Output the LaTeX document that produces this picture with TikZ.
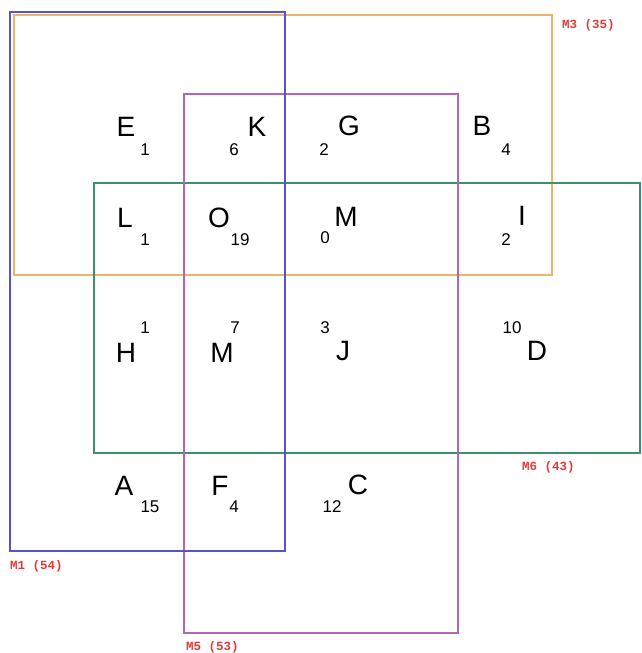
\documentclass[tikz,border=0pt]{standalone}
\usepackage{fontspec}
\setmainfont{Liberation Sans}
\newfontfamily\labmono{Liberation Mono}
\definecolor{cMone}{HTML}{5A52C8}
\definecolor{cMthree}{HTML}{EAB46A}
\definecolor{cMfive}{HTML}{B565B5}
\definecolor{cMsix}{HTML}{3F8F6C}
\definecolor{cLab}{HTML}{E03A3A}
\begin{document}
\begin{tikzpicture}[x=1pt,y=-1pt,
  boxline/.style={line width=2pt},
  letter/.style={inner sep=0pt,anchor=base,font=\fontsize{28}{30}\selectfont},
  count/.style={inner sep=0pt,anchor=base,font=\fontsize{17}{19}\selectfont},
  setlabel/.style={inner sep=0pt,anchor=west,text=cLab,font=\labmono\bfseries\fontsize{12.5}{14}\selectfont}]
\useasboundingbox (0,0) rectangle (641,653);
% sets
\draw[boxline,cMthree] (14,15) rectangle (552,275);
\draw[boxline,cMsix] (94,183) rectangle (640,453);
\draw[boxline,cMfive] (184,94) rectangle (458,633);
\draw[boxline,cMone] (10,12) rectangle (285,551);
% set labels
\node[setlabel] (l3) at (562,25) {M3 (35)};
\node[setlabel] (l1) at (10,566) {M1 (54)};
\node[setlabel] (l5) at (186,647) {M5 (53)};
\node[setlabel] (l6) at (522,467) {M6 (43)};
% row 1
\node[letter] (E) at (126,136) {E};
\node[count] (nE) at (145,155) {1};
\node[letter] (K) at (257,136) {K};
\node[count] (nK) at (234,155) {6};
\node[letter] (G) at (349,135) {G};
\node[count] (nG) at (324,155) {2};
\node[letter] (B) at (482,135) {B};
\node[count] (nB) at (506,155) {4};
% row 2
\node[letter] (L) at (125,227) {L};
\node[count] (nL) at (145,245) {1};
\node[letter] (O) at (219,227) {O};
\node[count] (nO) at (240,245) {19};
\node[letter] (M1) at (346,226) {M};
\node[count] (nM1) at (325,243) {0};
\node[letter] (I) at (522,225) {I};
\node[count] (nI) at (506,245) {2};
% row 3
\node[letter] (H) at (126,362) {H};
\node[count] (nH) at (145,333) {1};
\node[letter] (M2) at (222,362) {M};
\node[count] (nM2) at (235,333) {7};
\node[letter] (J) at (343,360) {J};
\node[count] (nJ) at (325,333) {3};
\node[letter] (D) at (537,360) {D};
\node[count] (nD) at (512,333) {10};
% row 4
\node[letter] (A) at (124,495) {A};
\node[count] (nA) at (150,512) {15};
\node[letter] (F) at (220,495) {F};
\node[count] (nF) at (234,512) {4};
\node[letter] (C) at (358,494) {C};
\node[count] (nC) at (332,512) {12};
\end{tikzpicture}
\end{document}
